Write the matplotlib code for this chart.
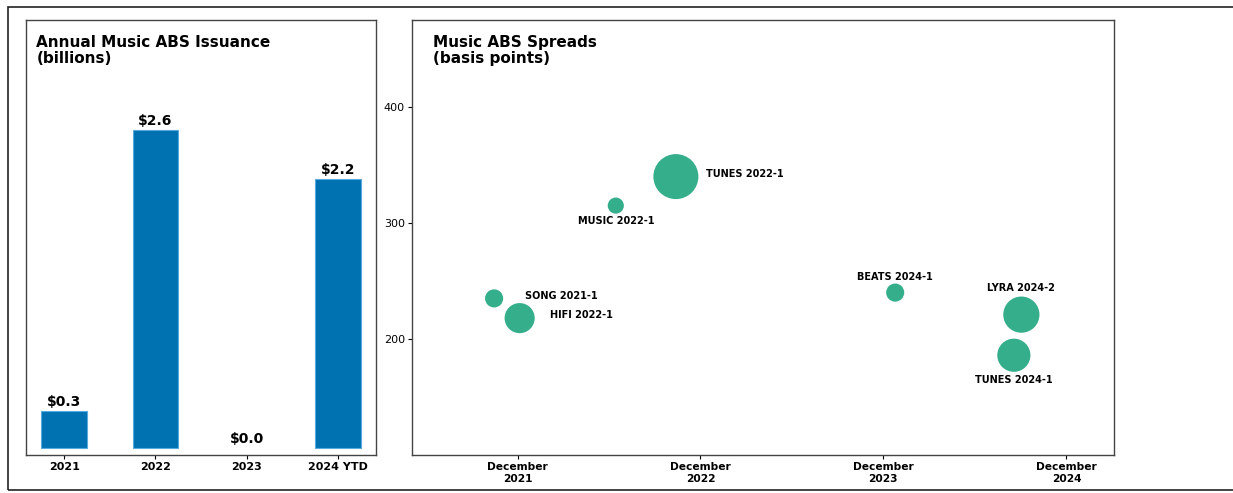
import matplotlib.pyplot as plt
import numpy as np
from datetime import datetime
from matplotlib.patches import Rectangle

# Data
years = ['2021', '2022', '2023', '2024 YTD']
issuance = [0.3, 2.6, 0.0, 2.2]

deals = ['SONG 2021-1', 'HIFI 2022-1', 'MUSIC 2022-1', 'TUNES 2022-1',
         'BEATS 2024-1', 'LYRA 2024-2', 'TUNES 2024-1']
deal_dates = [datetime(2021, 10, 15), datetime(2021, 12, 5), datetime(2022, 6, 15),
              datetime(2022, 10, 13), datetime(2023, 12, 25), datetime(2024, 9, 2),
              datetime(2024, 8, 18)]
spreads = [235, 218, 315, 340, 240, 221, 186]
deal_size = [170, 470, 135, 1050, 170, 680, 570]

xticks = [datetime(2021, 12, 1), datetime(2022, 12, 1), datetime(2023, 12, 1), datetime(2024, 12, 1)]
xtick_labels = ['December\n2021', 'December\n2022', 'December\n2023', 'December\n2024']

fig = plt.figure(figsize=(12.33, 4.93), dpi=100)

# outer frame of the screenshot
fig.patches.append(Rectangle((8 / 1233, 3 / 493), 1.05, 483 / 493, transform=fig.transFigure,
                             fill=False, edgecolor='#222222', linewidth=1.2))

# Left: issuance bars
ax1 = fig.add_axes([26 / 1233, 38 / 493, 350 / 1233, 435 / 493])
x = np.arange(len(years))
edges = ['#5aa9dd' if v > 0 else 'none' for v in issuance]
ax1.bar(x, issuance, width=0.5, color='#0072b2', edgecolor=edges, linewidth=0.8)
for xi, v in zip(x, issuance):
    ax1.text(xi, v + 0.02, f'${v:.1f}', ha='center', va='bottom', fontsize=10, fontweight='bold')
ax1.set_xlim(-0.42, 3.42)
ax1.set_ylim(-0.057, 3.5)
ax1.set_yticks([])
ax1.set_xticks(x)
ax1.set_xticklabels(years, fontsize=8, fontweight='bold')
ax1.tick_params(axis='x', length=3, pad=2)
ax1.text(0.03, 0.965, 'Annual Music ABS Issuance\n(billions)', transform=ax1.transAxes,
         ha='left', va='top', fontsize=11, fontweight='bold', linespacing=1.05)

# Right: spreads bubbles
ax2 = fig.add_axes([412 / 1233, 38 / 493, 702 / 1233, 435 / 493])
ax2.scatter(deal_dates, spreads, s=deal_size, color='#35ae8c', edgecolors='none', zorder=3)

offsets = [(22, 2, 'left'), (22, 2, 'left'), (0, -11, 'center'), (22, 2, 'left'),
           (0, 11, 'center'), (0, 19, 'center'), (0, -18, 'center')]
for name, d, s, (dx, dy, ha) in zip(deals, deal_dates, spreads, offsets):
    ax2.annotate(name, (d, s), xytext=(dx, dy), textcoords='offset points',
                 ha=ha, va='center', fontsize=7, fontweight='bold')

ax2.set_xlim(datetime(2021, 5, 4), datetime(2025, 3, 6))
ax2.set_ylim(100, 475)
ax2.set_yticks([200, 300, 400])
ax2.tick_params(axis='y', labelsize=8, length=3, pad=2)
ax2.set_xticks(xticks)
ax2.set_xticklabels(xtick_labels, fontsize=7.7, fontweight='bold', linespacing=1.2)
ax2.tick_params(axis='x', length=3, pad=2)
ax2.text(0.03, 0.965, 'Music ABS Spreads\n(basis points)', transform=ax2.transAxes,
         ha='left', va='top', fontsize=11, fontweight='bold', linespacing=1.05)

for ax in (ax1, ax2):
    for sp in ax.spines.values():
        sp.set_color('#444444')
        sp.set_linewidth(1.0)

fig.savefig('out.png', dpi=100)
